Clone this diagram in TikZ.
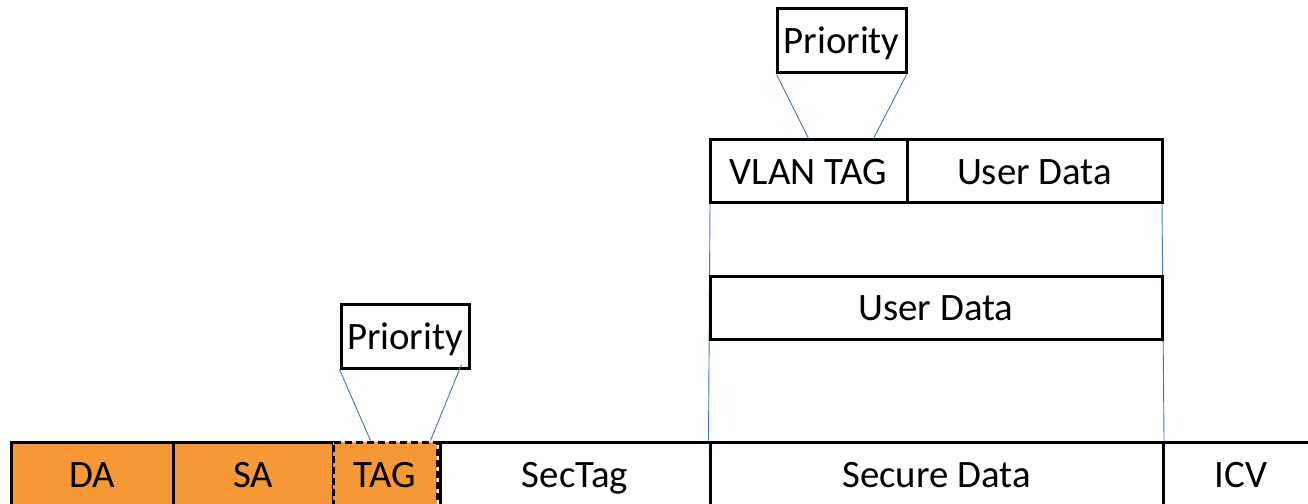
\documentclass[tikz,border=0pt]{standalone}
\usepackage{fontspec}
\setmainfont{Carlito}
\definecolor{frameorange}{RGB}{247,152,54}
\definecolor{linkblue}{RGB}{68,114,196}
\begin{document}
\begin{tikzpicture}[x=1bp,y=-1bp,
  field/.style={draw=black, line width=3bp, fill=white, rectangle, inner sep=0pt,
    font=\fontsize{38.8bp}{46bp}\selectfont, text height=31bp, text depth=5bp,
    minimum height=63bp},
  hdr/.style={field, fill=frameorange},
  opt/.style={hdr, dash pattern=on 7bp off 4bp},
  link/.style={draw=linkblue, line width=0.9bp}]
\useasboundingbox (0,0) rectangle (1308,504);
\clip (0,0) rectangle (1308,504);

% outer frame
\node[hdr,   minimum width=161bp, minimum height=64bp] (da)  at (92.5,474)  {DA};
\node[hdr,   minimum width=160bp, minimum height=64bp] (sa)  at (253,474)   {SA};
\node[field, minimum width=270bp, minimum height=64bp] (sectag) at (575,474) {SecTag};
\node[field, minimum width=453bp, minimum height=64bp] (sec) at (936.5,474) {Secure Data};
\node[field, minimum width=156bp, minimum height=64bp] (icv) at (1241,474)  {ICV};
\node[opt,   minimum width=104bp, minimum height=64bp] (tag) at (385,474)   {TAG};

% priority field of the optional tag
\node[field, minimum width=128bp, minimum height=64bp] (pri1) at (405,336) {Priority};
\coordinate (tagL) at ([xshift=39bp]tag.north west);
\coordinate (tagR) at ([xshift=-8bp]tag.north east);
\coordinate (pri1R) at ([xshift=-9bp,yshift=5bp]pri1.south east);
\draw[link] (pri1.south west) -- (tagL);
\draw[link] (pri1R) -- (tagR);

% expansion of the secure data
\coordinate (vlanL) at (710,203);
\coordinate (vlanR) at (1162,203);
\draw[link] (vlanL) -- (sec.north west);
\draw[link] (vlanR) -- ([xshift=-0.5bp]sec.north east);

\node[field, minimum width=452bp] (user) at (936,307.5) {User Data};
\node[field, minimum width=197bp] (vlan) at (808.5,171.5) {VLAN TAG};
\node[field, minimum width=255bp] (utop) at (1034.5,171.5) {User Data};

% priority field of the VLAN tag
\node[field, minimum width=129bp, minimum height=64bp] (pri2) at (841.5,41) {Priority};
\coordinate (vlanP) at ([xshift=65bp]vlan.north);
\draw[link] ([xshift=1bp]pri2.south west) -- (vlan.north);
\draw[link] ([xshift=-1bp]pri2.south east) -- (vlanP);
\end{tikzpicture}
\end{document}
